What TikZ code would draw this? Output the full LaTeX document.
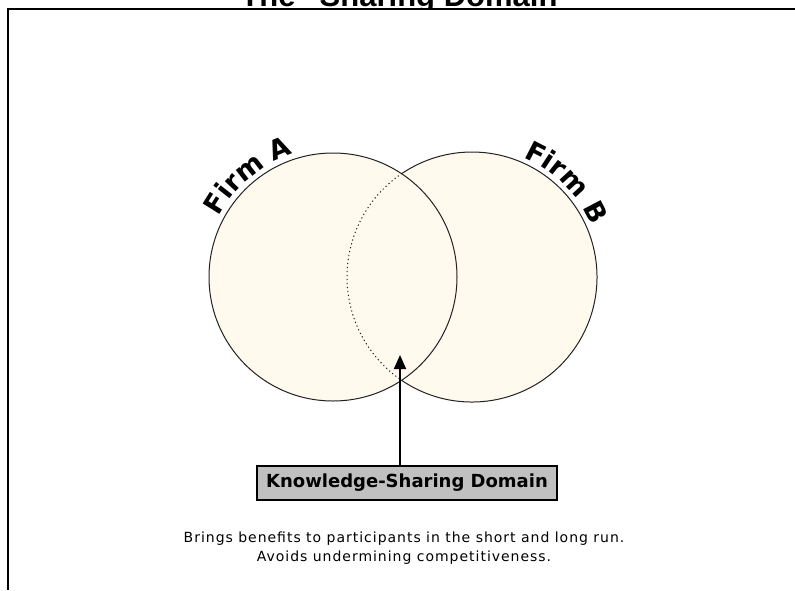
\documentclass[tikz,border=0pt]{standalone}
\usepackage{fontspec}
\setmainfont{Liberation Sans}
\newfontfamily\dvs{DejaVu Sans}
\usetikzlibrary{arrows.meta,decorations.text}
\definecolor{cream}{HTML}{FFF9EE}
\definecolor{boxgray}{HTML}{C0C0C0}
\definecolor{edge}{HTML}{222222}
\tikzset{
  circ/.style={draw=edge, line width=1pt},
  labelbox/.style={draw=black, line width=1.5pt, fill=boxgray, minimum width=300pt, minimum height=34pt, inner sep=0pt, font=\dvs\bfseries\fontsize{18}{20}\selectfont},
  plain/.style={font=\dvs\fontsize{14}{19}\selectfont\addfontfeatures{LetterSpace=7}, align=center, inner sep=0pt},
  frame/.style={draw=black, line width=2pt},
}
\begin{document}
\begin{tikzpicture}[x=1pt,y=1pt]
\useasboundingbox (0,0) rectangle (795,-590);
% title (cut off at top)
\node[anchor=base, font=\bfseries\fontsize{31}{34}\selectfont, inner sep=0pt] (title) at (399,-6) {The "Sharing Domain};
% frame
\coordinate (ftl) at (8,-9);
\coordinate (ftr) at (795,-9);
\coordinate (fbl) at (8,-590);
\fill[white] (0,-10) rectangle (795,-20);
\draw[frame] (ftr) -- (ftl) -- (fbl);
% circles
\coordinate (A) at (333,-277);
\coordinate (B) at (472,-277);
\fill[cream] (A) circle[radius=124];
\fill[cream] (B) circle[radius=125];
\draw[circ] (A) circle[radius=124];
\draw[circ] (B) ++(-124:125) arc[start angle=-124, end angle=124, radius=125];
\draw[circ, dash pattern=on 1.2pt off 2.8pt] (B) ++(124:125) arc[start angle=124, end angle=236, radius=125];
% labels along arcs
\path[decorate, decoration={text along path, text align=center, text={|\dvs\bfseries\fontsize{27}{30}\selectfont|Firm A}}]
  (A) ++(160:129) arc[start angle=160, end angle=100, radius=129];
\path[decorate, decoration={text along path, text align=center, text={|\dvs\bfseries\fontsize{27}{30}\selectfont|Firm B}}]
  (B) ++(76:130) arc[start angle=76, end angle=14, radius=130];
% box and arrow
\node[labelbox] (ksd) at (407,-483) {Knowledge-Sharing Domain};
\coordinate (tip) at (400,-355);
\draw[line width=2pt, -{Triangle[length=14pt,width=12pt]}] (ksd.north -| tip) -- (tip);
% bottom text
\node[plain] (note) at (404,-548) {Brings benefits to participants in the short and long run.\\Avoids undermining competitiveness.};
\end{tikzpicture}
\end{document}
